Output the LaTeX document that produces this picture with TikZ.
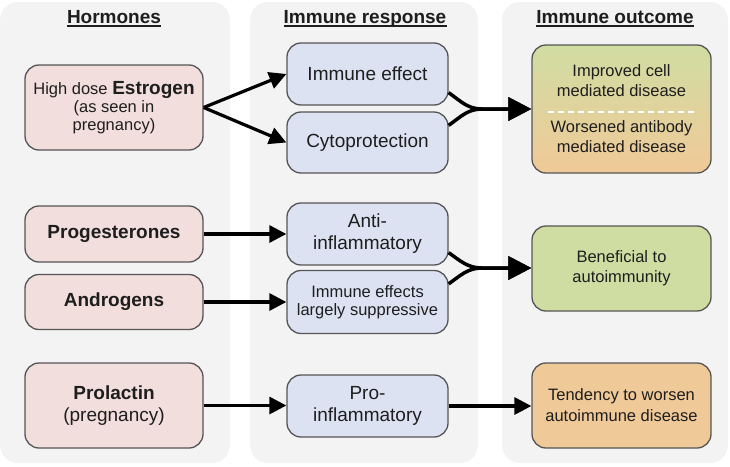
\documentclass[tikz,border=0pt]{standalone}
\usepackage{fontspec}
\setmainfont{Liberation Sans}
\usetikzlibrary{arrows.meta}
\definecolor{panelgray}{RGB}{243,243,243}
\definecolor{boxline}{RGB}{85,85,85}
\definecolor{textcol}{RGB}{30,30,30}
\definecolor{hormfill}{RGB}{242,222,220}
\definecolor{respfill}{RGB}{221,226,243}
\definecolor{goodfill}{RGB}{208,221,162}
\definecolor{badfill}{RGB}{240,201,152}
\newcommand{\bigtxt}{\fontsize{19}{22}\selectfont}
\newcommand{\smalltxt}{\fontsize{16.5}{18}\selectfont}
\begin{document}
\begin{tikzpicture}[x=1pt, y=-1pt,
    box/.style={draw=boxline, line width=1.3pt, rounded corners=14pt,
                align=center, text=textcol, inner sep=2pt},
    hormone/.style={box, fill=hormfill, minimum width=178pt},
    response/.style={box, fill=respfill, minimum width=161pt},
    outcome/.style={box, minimum width=179pt},
    header/.style={font=\bfseries\bigtxt, text=textcol, inner sep=0pt, anchor=base},
    underbar/.style={line width=1.3pt, textcol},
    arr/.style={line width=3.2pt, -{Triangle[length=17pt,width=17pt]}},
    merge/.style={line width=3.5pt, -{Triangle[length=23pt,width=23pt]}}]
    \useasboundingbox (0,0) rectangle (730,466);
    % column panels
    \foreach \xa/\xb in {0/230, 250/478, 502/728}
    {
        \fill[panelgray, rounded corners=18pt] (\xa,2) rectangle (\xb,463);
    }
    % column headers
    \node[header] (hHorm) at (114,23) {Hormones};
    \node[header] (hResp) at (365,23) {Immune response};
    \node[header] (hOut)  at (615,23) {Immune outcome};
    \foreach \h in {hHorm, hResp, hOut}
    {
        \draw[underbar] ([yshift=-3pt]\h.base west) -- ([yshift=-3pt]\h.base east);
    }
    % hormones
    \node[hormone, minimum height=85pt, font=\smalltxt] (estro) at (114,107.5)
        {High dose {\bfseries\fontsize{19}{18}\selectfont Estrogen}\\
         (as seen in\\pregnancy)};
    \node[hormone, minimum height=56pt, font=\bfseries\bigtxt] (proge) at (114,234) {Progesterones};
    \node[hormone, minimum height=55pt, font=\bfseries\bigtxt] (andro) at (114,302) {Androgens};
    \node[hormone, minimum height=85pt, font=\bigtxt] (prola) at (114,405.5)
        {\textbf{Prolactin}\\(pregnancy)};
    % immune response
    \node[response, minimum height=62pt, font=\bigtxt] (effect) at (367.5,74) {Immune effect};
    \node[response, minimum height=61pt, font=\bigtxt] (cyto) at (367.5,142.5) {Cytoprotection};
    \node[response, minimum height=62pt, font=\bigtxt] (antiinf) at (367.5,234) {Anti-\\inflammatory};
    \node[response, minimum height=63pt, font=\smalltxt] (suppr) at (367.5,302)
        {Immune effects\\largely suppressive};
    \node[response, minimum height=62pt, font=\bigtxt] (proinf) at (367.5,406) {Pro-\\inflammatory};
    % immune outcome
    \node[outcome, minimum height=128pt, top color=goodfill, bottom color=badfill,
          font=\fontsize{16.5}{20}\selectfont] (mixed) at (621.5,109)
        {Improved cell\\mediated disease\\[16pt]Worsened antibody\\mediated disease};
    \draw[white, line width=1.2pt, dash pattern=on 6pt off 4pt]
        ([xshift=17pt,yshift=-3pt]mixed.west) -- ([xshift=-18pt,yshift=-3pt]mixed.east);
    \node[outcome, minimum height=85pt, fill=goodfill, font=\fontsize{16.5}{20}\selectfont] (benef) at (621.5,268.5)
        {Beneficial to\\autoimmunity};
    \node[outcome, minimum height=85pt, fill=badfill, font=\fontsize{16.5}{21}\selectfont] (worse) at (621.5,405.5)
        {Tendency to worsen\\autoimmune disease};
    % junctions where two responses meet
    \coordinate (jTop) at (482,109);
    \coordinate (jMid) at (482,268);
    % arrows
    \draw[arr] (estro.east) -- (effect.west);
    \draw[arr] (estro.east) -- (cyto.west);
    \draw[arr] (proge.east) -- (proge.east -| antiinf.west);
    \draw[arr] (andro.east) -- (andro.east -| suppr.west);
    \draw[arr] (prola.east) -- (prola.east -| proinf.west);
    \draw[arr] (proinf.east) -- (proinf.east -| worse.west);
    \draw[merge] ([yshift=13pt]effect.south east) to[out=-35,in=180] (jTop) -- (mixed.west);
    \draw[merge] ([yshift=-14pt]cyto.north east) to[out=35,in=180] (jTop) -- (mixed.west);
    \draw[merge] ([yshift=13pt]antiinf.south east) to[out=-35,in=180] (jMid) -- (jMid -| benef.west);
    \draw[merge] ([yshift=-14pt]suppr.north east) to[out=35,in=180] (jMid) -- (jMid -| benef.west);
\end{tikzpicture}
\end{document}
